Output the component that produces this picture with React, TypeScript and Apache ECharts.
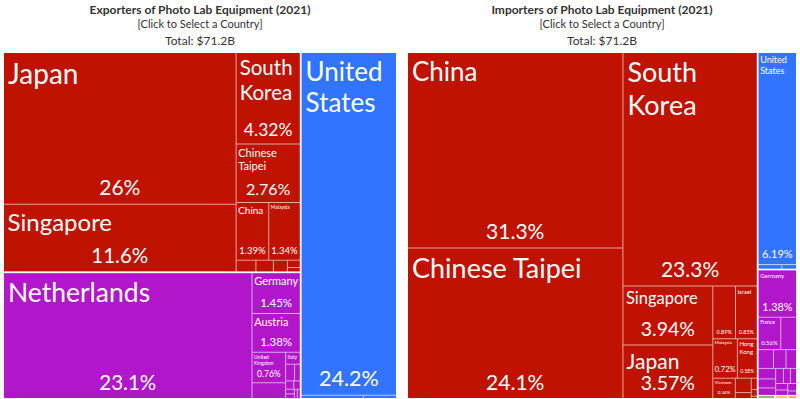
import React, { useEffect, useRef } from 'react';
import * as echarts from 'echarts';

// ---------- DATA (shares of total, %) ----------
// Exporters
const EXP_ASIA_NAMES = ['Japan', 'Singapore', 'South Korea', 'Chinese Taipei', 'China', 'Malaysia', 'Thailand', 'Philippines', 'India', 'Hong Kong', 'Israel'];
const EXP_ASIA_VALUES = [26, 11.6, 4.32, 2.76, 1.39, 1.34, 0.17, 0.15, 0.12, 0.07, 0.04];
const EXP_EUROPE_NAMES = ['Netherlands', 'Germany', 'Austria', 'United Kingdom', 'France', 'Italy', 'Switzerland', 'Czechia', 'Belgium', 'Spain', 'Sweden', 'Poland', 'Denmark', 'Hungary'];
const EXP_EUROPE_VALUES = [23.1, 1.45, 1.38, 0.76, 0.39, 0.13, 0.11, 0.07, 0.05, 0.04, 0.03, 0.03, 0.02, 0.02];
const EXP_NA_NAMES = ['United States', 'Canada', 'Mexico'];
const EXP_NA_VALUES = [24.2, 0.15, 0.08];

// Importers
const IMP_ASIA_NAMES = ['China', 'Chinese Taipei', 'South Korea', 'Singapore', 'Japan', 'Philippines', 'Israel', 'Malaysia', 'Hong Kong', 'Vietnam', 'India', 'Thailand', 'Indonesia', 'Bangladesh', 'Pakistan'];
const IMP_ASIA_VALUES = [31.3, 24.1, 23.3, 3.94, 3.57, 0.89, 0.85, 0.72, 0.58, 0.34, 0.17, 0.07, 0.05, 0.03, 0.01];
const IMP_NA_NAMES = ['United States', 'Mexico', 'Canada'];
const IMP_NA_VALUES = [6.19, 0.08, 0.05];
const IMP_EUROPE_NAMES = ['Germany', 'France', 'Netherlands', 'Italy', 'United Kingdom', 'Spain', 'Austria', 'Poland', 'Czechia', 'Switzerland', 'Belgium', 'Hungary', 'Sweden', 'Denmark', 'Finland', 'Ireland'];
const IMP_EUROPE_VALUES = [1.38, 0.56, 0.39, 0.22, 0.18, 0.15, 0.14, 0.12, 0.1, 0.09, 0.08, 0.07, 0.06, 0.05, 0.05, 0.03];
const IMP_SA_NAMES = ['Brazil'];
const IMP_SA_VALUES = [0.04];
const IMP_AF_NAMES = ['South Africa'];
const IMP_AF_VALUES = [0.03];
const IMP_OC_NAMES = ['Australia'];
const IMP_OC_VALUES = [0.02];

const TITLES_LEFT = ['Exporters of Photo Lab Equipment (2021)', '[Click to Select a Country]', 'Total: $71.2B'];
const TITLES_RIGHT = ['Importers of Photo Lab Equipment (2021)', '[Click to Select a Country]', 'Total: $71.2B'];

// ---------- STYLE ----------
const FONT = 'Lato, "Noto Sans", sans-serif';
const COLORS: Record<string, string> = {
  Asia: '#BF1200',
  Europe: '#B116CB',
  'North America': '#3174FF',
  'South America': '#3EA829',
  Africa: '#F2B600',
  Oceania: '#F08A00',
};

const EXP_NAME_SIZE: Record<string, number> = {
  Japan: 28, Singapore: 24, 'South Korea': 20.5, 'Chinese Taipei': 11, China: 10, Malaysia: 5,
  Netherlands: 26.5, Germany: 11, Austria: 11, 'United Kingdom': 5, Italy: 5, 'United States': 26,
};
const EXP_PCT_SIZE: Record<string, number> = {
  Japan: 21, Singapore: 20.5, 'South Korea': 17.5, 'Chinese Taipei': 16, China: 9.5, Malaysia: 9.5,
  Netherlands: 20.5, Germany: 11.5, Austria: 11.5, 'United Kingdom': 8.5, 'United States': 21.5,
};
const IMP_NAME_SIZE: Record<string, number> = {
  China: 26, 'Chinese Taipei': 27, 'South Korea': 27, Singapore: 16.5, Japan: 21, Israel: 6,
  Malaysia: 4.5, 'Hong Kong': 6, Vietnam: 4.5, 'United States': 9, Germany: 6, France: 5,
};
const IMP_PCT_SIZE: Record<string, number> = {
  China: 21, 'Chinese Taipei': 21, 'South Korea': 21, Singapore: 19.5, Japan: 19.5, Philippines: 5.5,
  Israel: 5.5, Malaysia: 7.5, 'Hong Kong': 5, Vietnam: 4.5, 'United States': 11, Germany: 10.8, France: 6,
};
// names drawn on two lines
const EXP_WRAP = ['South Korea', 'Chinese Taipei', 'United States', 'United Kingdom'];
const IMP_WRAP = ['South Korea', 'United States', 'Hong Kong'];

type Group = { continent: string; names: string[]; values: number[] };

const EXP_GROUPS: Group[] = [
  { continent: 'Asia', names: EXP_ASIA_NAMES, values: EXP_ASIA_VALUES },
  { continent: 'Europe', names: EXP_EUROPE_NAMES, values: EXP_EUROPE_VALUES },
  { continent: 'North America', names: EXP_NA_NAMES, values: EXP_NA_VALUES },
];
const IMP_GROUPS: Group[] = [
  { continent: 'Asia', names: IMP_ASIA_NAMES, values: IMP_ASIA_VALUES },
  { continent: 'North America', names: IMP_NA_NAMES, values: IMP_NA_VALUES },
  { continent: 'Europe', names: IMP_EUROPE_NAMES, values: IMP_EUROPE_VALUES },
  { continent: 'South America', names: IMP_SA_NAMES, values: IMP_SA_VALUES },
  { continent: 'Africa', names: IMP_AF_NAMES, values: IMP_AF_VALUES },
  { continent: 'Oceania', names: IMP_OC_NAMES, values: IMP_OC_VALUES },
];

function tint(hex: string, t: number) {
  const n = parseInt(hex.slice(1), 16);
  const r = (n >> 16) & 255, g = (n >> 8) & 255, b = n & 255;
  const m = (c: number) => Math.round(c * (1 - t) + 255 * t);
  return `rgb(${m(r)},${m(g)},${m(b)})`;
}

const fmt = (v: number) => `${v}%`;
const TRANSPARENT = 'rgba(0,0,0,0)';

function buildData(groups: Group[], sizes: Record<string, number>, mode: 'name' | 'pct') {
  return groups.map((g) => {
    const c = COLORS[g.continent];
    const line = tint(c, 0.62);
    return {
      name: g.continent,
      itemStyle: mode === 'name' ? { color: c, borderColor: line } : { color: TRANSPARENT, borderColor: TRANSPARENT },
      children: g.names.map((n, i) => {
        const fs = sizes[n];
        let label: any = { show: false };
        if (fs) {
          label = { show: true, fontSize: fs, lineHeight: +(fs * 1.2).toFixed(1) };
          if (mode === 'name') {
            label.padding = [Math.max(1, fs * 0.1), 0, 0, Math.max(1.5, Math.min(4, fs * 0.15))];
          }
        }
        return {
          name: n,
          value: g.values[i],
          itemStyle: { color: mode === 'name' ? c : TRANSPARENT, borderColor: mode === 'name' ? line : TRANSPARENT },
          label,
        };
      }),
    };
  });
}

function makeSeries(groups: Group[], rect: { left: number; top: number; width: number; height: number }, mode: 'name' | 'pct', sizes: Record<string, number>, wrap: string[]) {
  const pctLookup: Record<string, number> = {};
  if (mode === 'pct') {
    groups.forEach((g) => g.names.forEach((n, i) => { if (sizes[n]) pctLookup[fmt(g.values[i])] = sizes[n]; }));
  }
  return {
    type: 'treemap',
    ...rect,
    roam: false,
    nodeClick: false,
    silent: mode === 'pct',
    breadcrumb: { show: false },
    sort: 'desc',
    visibleMin: 0,
    squareRatio: 0.5 * (1 + Math.sqrt(5)),
    upperLabel: { show: false },
    emphasis: { disabled: true },
    label: mode === 'name'
      ? {
          show: true, position: 'insideTopLeft', color: '#fff', fontFamily: FONT, overflow: 'none',
          formatter: (p: any) => (wrap.includes(p.name) ? String(p.name).replace(' ', '\n') : p.name),
          align: 'left', verticalAlign: 'top', distance: 0,
        }
      : { show: true, position: 'insideTop', formatter: (p: any) => fmt(p.value), color: '#fff', fontFamily: FONT, overflow: 'none', padding: 0, align: 'center', verticalAlign: 'top', distance: 0 },
    itemStyle: { borderWidth: 0, gapWidth: 0 },
    levels: [
      { itemStyle: { borderWidth: 0, gapWidth: 2, borderColor: mode === 'name' ? '#fff' : TRANSPARENT } },
      { itemStyle: { borderWidth: 0, gapWidth: 1 } },
      { itemStyle: { borderWidth: 0, gapWidth: 0 } },
    ],
    labelLayout: mode === 'pct'
      ? (p: any) => {
          const fs = pctLookup[p.text] || 10;
          return { dy: p.rect.height - 1.25 * fs - 3 };
        }
      : undefined,
    data: buildData(groups, sizes, mode),
  };
}

function titleGraphics(lines: string[], cx: number) {
  const ys = [9, 23, 40];
  const sizes = [12, 11, 12];
  const weights = ['bold', 'normal', 'normal'];
  return lines.map((t, i) => ({
    type: 'text',
    x: cx,
    y: ys[i],
    style: { text: t, fontFamily: FONT, fontSize: sizes[i], fontWeight: weights[i], fill: '#333', align: 'center', verticalAlign: 'middle' },
  }));
}

export default function App() {
  const ref = useRef<HTMLDivElement>(null);
  useEffect(() => {
    if (!ref.current) return;
    const chart = echarts.init(ref.current, undefined, { renderer: 'svg' });
    const leftRect = { left: 4, top: 53, width: 392, height: 345 };
    const rightRect = { left: 408, top: 53, width: 388, height: 345 };
    chart.setOption({
      animation: false,
      backgroundColor: '#fff',
      graphic: [...titleGraphics(TITLES_LEFT, 200), ...titleGraphics(TITLES_RIGHT, 602)],
      series: [
        makeSeries(EXP_GROUPS, leftRect, 'name', EXP_NAME_SIZE, EXP_WRAP),
        makeSeries(EXP_GROUPS, leftRect, 'pct', EXP_PCT_SIZE, EXP_WRAP),
        makeSeries(IMP_GROUPS, rightRect, 'name', IMP_NAME_SIZE, IMP_WRAP),
        makeSeries(IMP_GROUPS, rightRect, 'pct', IMP_PCT_SIZE, IMP_WRAP),
      ],
    } as any);
    return () => chart.dispose();
  }, []);
  return <div ref={ref} style={{ position: 'fixed', left: 0, top: 0, width: 800, height: 399 }} />;
}
